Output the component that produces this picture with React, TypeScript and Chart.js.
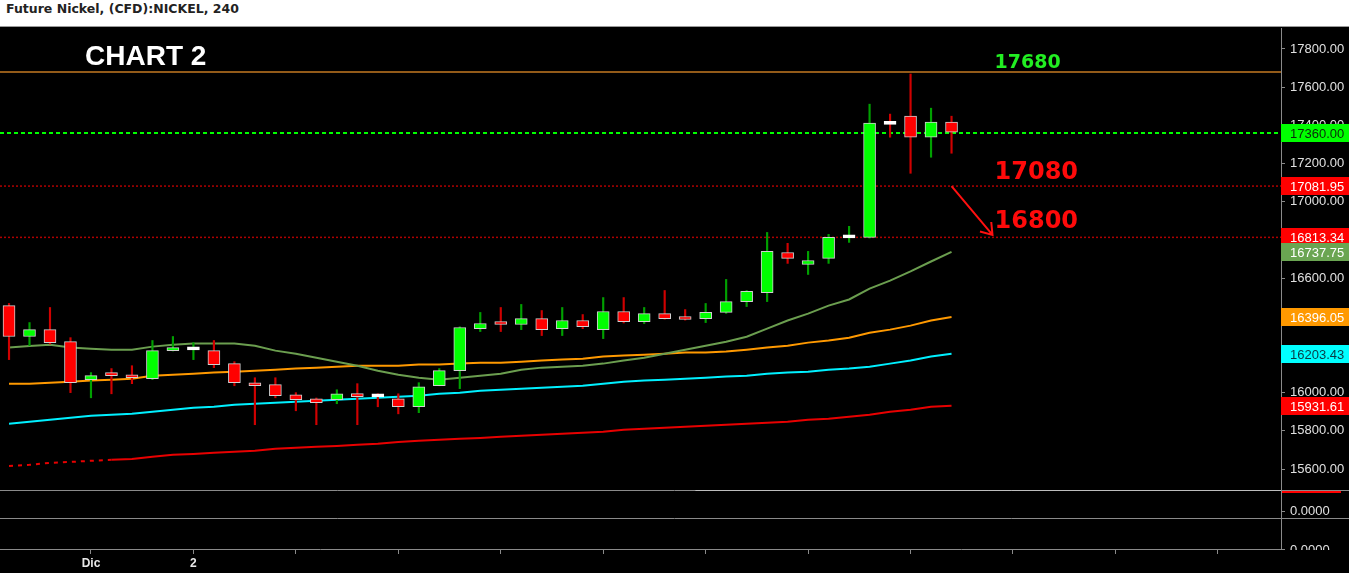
import React, { useEffect, useRef } from 'react';
import { Chart, registerables } from 'chart.js';

Chart.register(...registerables);

// ---------------- data ----------------
const TITLE = 'Future Nickel, (CFD):NICKEL, 240';
const CHART_LABEL = 'CHART 2';

const OPEN = [16456, 16294, 16330, 16267, 16068, 16105, 16089, 16073, 16220, 16224, 16220, 16152, 16052, 16042, 15989, 15968, 15963, 15989, 15980, 15968, 15926, 16036, 16115, 16335, 16372, 16357, 16388, 16335, 16378, 16330, 16425, 16372, 16414, 16393, 16388, 16420, 16477, 16524, 16734, 16671, 16703, 16811, 16813, 17407, 17448, 17338, 17417];
const HIGH = [16467, 16367, 16446, 16288, 16105, 16126, 16141, 16273, 16294, 16262, 16273, 16162, 16078, 16078, 16000, 15972, 16015, 16047, 15994, 15994, 16052, 16126, 16345, 16420, 16446, 16462, 16430, 16446, 16409, 16498, 16498, 16446, 16535, 16435, 16467, 16593, 16535, 16839, 16782, 16740, 16829, 16871, 17511, 17459, 17669, 17490, 17448];
const LOW = [16173, 16246, 16255, 16000, 15973, 15994, 16047, 16068, 16218, 16173, 16131, 16036, 15832, 15973, 15905, 15832, 15942, 15832, 15926, 15889, 15895, 16036, 16021, 16320, 16320, 16330, 16299, 16299, 16335, 16283, 16365, 16362, 16385, 16380, 16367, 16415, 16451, 16477, 16677, 16619, 16677, 16787, 16810, 17338, 17149, 17233, 17254];
const CLOSE = [16294, 16330, 16262, 16052, 16089, 16089, 16078, 16220, 16236, 16226, 16147, 16052, 16036, 15984, 15963, 15947, 15994, 15979, 15978, 15926, 16031, 16115, 16341, 16362, 16357, 16388, 16330, 16378, 16346, 16425, 16372, 16414, 16388, 16383, 16420, 16477, 16530, 16740, 16703, 16692, 16813, 16815, 17412, 17405, 17338, 17417, 17364];

const MA_GREEN = [16236, 16244, 16251, 16236, 16230, 16225, 16225, 16241, 16251, 16257, 16257, 16257, 16246, 16220, 16204, 16183, 16162, 16141, 16115, 16094, 16078, 16068, 16078, 16089, 16099, 16120, 16131, 16136, 16141, 16152, 16168, 16183, 16204, 16225, 16246, 16267, 16293, 16335, 16378, 16414, 16456, 16488, 16545, 16587, 16635, 16687, 16737.75];
const MA_ORANGE = [16047, 16047, 16052, 16057, 16063, 16068, 16073, 16089, 16094, 16099, 16105, 16110, 16115, 16120, 16126, 16131, 16136, 16141, 16141, 16141, 16147, 16147, 16152, 16157, 16157, 16162, 16168, 16173, 16178, 16189, 16194, 16199, 16204, 16210, 16210, 16215, 16225, 16236, 16246, 16262, 16273, 16288, 16314, 16330, 16351, 16378, 16396.05];
const MA_CYAN = [15837, 15847, 15858, 15868, 15879, 15884, 15889, 15900, 15910, 15921, 15926, 15937, 15942, 15947, 15952, 15958, 15963, 15968, 15973, 15979, 15984, 15994, 16000, 16010, 16015, 16021, 16026, 16031, 16036, 16047, 16057, 16063, 16068, 16073, 16078, 16084, 16089, 16099, 16105, 16110, 16120, 16126, 16136, 16152, 16168, 16189, 16203.43];
const MA_RED = [15616, 15622, 15632, 15637, 15643, 15648, 15653, 15664, 15674, 15679, 15685, 15690, 15695, 15706, 15711, 15716, 15721, 15727, 15732, 15742, 15748, 15753, 15758, 15763, 15769, 15774, 15779, 15784, 15790, 15795, 15805, 15811, 15816, 15821, 15826, 15832, 15837, 15842, 15847, 15858, 15863, 15874, 15884, 15900, 15910, 15926, 15931.61];

const Y_TICKS = [15600, 15800, 16000, 16200, 16400, 16600, 16800, 17000, 17200, 17400, 17600, 17800];
const X_TICK_INDEX = [4, 9, 14, 19, 24, 29, 34, 39, 44, 49, 54, 59];
const X_TICK_LABELS = ['Dic', '2', '', '', '', '', '', '', '', '', '', ''];
const SUB_TICKS = [0];

const LEVEL_RESIST = 17680;
const LEVEL_LAST = 17360;
const LEVEL_S1 = 17081.95;
const LEVEL_S2 = 16813.34;
const LEVEL_TEXTS = ['17680', '17080', '16800'];

const TAG_VALUES = [17360.0, 17081.95, 16813.34, 16737.75, 16396.05, 16203.43, 15931.61];

// ---------------- layout / style ----------------
const X_MIN = -0.44;
const X_MAX = 62.08;
const Y_MIN = 15490;
const Y_MAX = 17910;
const FONT = '"Liberation Sans", Arial, sans-serif';

const TAG_STYLE = [
  { bg: '#00ff00', fg: '#0a2a0a' },
  { bg: '#ff0000', fg: '#ffffff' },
  { bg: '#ff0000', fg: '#ffffff' },
  { bg: '#6aa552', fg: '#ffffff' },
  { bg: '#ff9900', fg: '#ffffff' },
  { bg: '#00ffff', fg: '#0a3a44' },
  { bg: '#ff0000', fg: '#ffffff' },
];

const TEXT_NOTES = [
  { text: CHART_LABEL, x: 3.71, y: 17714, color: '#ffffff', font: `bold 28px ${FONT}` },
  { text: LEVEL_TEXTS[0], x: 48.1, y: 17700, color: '#22ee22', font: `bold 19px "DejaVu Sans", Verdana, sans-serif` },
  { text: LEVEL_TEXTS[1], x: 48.1, y: 17119, color: '#ff0a0a', font: `bold 24px "DejaVu Sans", Verdana, sans-serif` },
  { text: LEVEL_TEXTS[2], x: 48.1, y: 16862, color: '#ff0a0a', font: `bold 24px "DejaVu Sans", Verdana, sans-serif` },
];
const ARROW = { from: { x: 46.0, y: 17081.95 }, to: { x: 48.0, y: 16826 } };

const noPadFit = (w: number) => (s: any) => {
  s.width = w;
  s.paddingTop = 0;
  s.paddingBottom = 0;
};

function buildConfig(): any {
  const idx = OPEN.map((_, i) => i);
  const isDoji = (i: number) => Math.abs(CLOSE[i] - OPEN[i]) < 5;
  const bodyColors = idx.map((i) => (isDoji(i) ? '#ffffff' : CLOSE[i] > OPEN[i] ? '#00ff00' : '#ff0000'));
  const bodyBorders = idx.map((i) => (isDoji(i) ? '#ffffff' : '#d0d0d0'));
  const wickColors = idx.map((i) => (CLOSE[i] >= OPEN[i] ? '#00a000' : '#d00000'));
  const maLine = (vals: number[], color: string, extra: any = {}) => ({
    type: 'line',
    data: vals.map((v, i) => ({ x: i, y: v })),
    borderColor: color,
    borderWidth: 2,
    pointRadius: 0,
    tension: 0,
    xAxisID: 'x',
    yAxisID: 'y',
    order: 2,
    ...extra,
  });
  const level = (v: number, color: string, dash: number[], width: number) => ({
    type: 'line',
    data: [
      { x: X_MIN, y: v },
      { x: X_MAX, y: v },
    ],
    borderColor: color,
    borderWidth: width,
    borderDash: dash,
    pointRadius: 0,
    xAxisID: 'x',
    yAxisID: 'y',
    order: 3,
  });

  const tagsPlugin = {
    id: 'tagsAndNotes',
    beforeDatasetsDraw(chart: any) {
      const { ctx, width } = chart;
      const y2 = chart.scales.y2;
      const y3 = chart.scales.y3;
      ctx.save();
      ctx.strokeStyle = '#8a8a8a';
      ctx.lineWidth = 1;
      ctx.beginPath();
      ctx.moveTo(0, Math.round(y2.top) + 0.5);
      ctx.lineTo(width, Math.round(y2.top) + 0.5);
      ctx.moveTo(0, Math.round(y3.top) + 0.5);
      ctx.lineTo(width, Math.round(y3.top) + 0.5);
      ctx.stroke();
      ctx.restore();
    },
    afterDatasetsDraw(chart: any) {
      const { ctx } = chart;
      const xs = chart.scales.x;
      const ys = chart.scales.y;
      ctx.save();
      TEXT_NOTES.forEach((n) => {
        ctx.font = n.font;
        ctx.fillStyle = n.color;
        ctx.textAlign = 'left';
        ctx.textBaseline = 'alphabetic';
        ctx.fillText(n.text, xs.getPixelForValue(n.x), ys.getPixelForValue(n.y));
      });
      const x0 = xs.getPixelForValue(ARROW.from.x);
      const y0 = ys.getPixelForValue(ARROW.from.y);
      const x1 = xs.getPixelForValue(ARROW.to.x);
      const y1 = ys.getPixelForValue(ARROW.to.y);
      const ang = Math.atan2(y0 - y1, x0 - x1);
      ctx.strokeStyle = '#ff1010';
      ctx.lineWidth = 2;
      ctx.beginPath();
      ctx.moveTo(x0, y0);
      ctx.lineTo(x1, y1);
      const hl = 13;
      const spread = 0.6;
      ctx.moveTo(x1 + hl * Math.cos(ang - spread), y1 + hl * Math.sin(ang - spread));
      ctx.lineTo(x1, y1);
      ctx.lineTo(x1 + hl * Math.cos(ang + spread), y1 + hl * Math.sin(ang + spread));
      ctx.stroke();
      ctx.restore();
    },
    afterDraw(chart: any) {
      const { ctx, chartArea, width, height } = chart;
      const ys = chart.scales.y;
      const y2 = chart.scales.y2;
      ctx.save();
      ctx.fillStyle = '#000000';
      ctx.fillRect(chartArea.right + 1, chartArea.bottom + 1, width - chartArea.right, height - chartArea.bottom);
      ctx.fillStyle = '#ff0000';
      ctx.fillRect(chartArea.right + 1, Math.round(y2.top) + 1, 59, 2);
      ctx.font = `13px ${FONT}`;
      ctx.textAlign = 'left';
      ctx.textBaseline = 'middle';
      TAG_VALUES.forEach((v, k) => {
        const py = Math.round(ys.getPixelForValue(v));
        ctx.fillStyle = TAG_STYLE[k].bg;
        ctx.fillRect(chartArea.right, py - 9, width - chartArea.right, 18);
        ctx.fillStyle = TAG_STYLE[k].fg;
        ctx.fillText(v.toFixed(2), chartArea.right + 9, py + 1);
      });
      ctx.fillStyle = '#ffffff';
      ctx.fillRect(0, height - 4, width, 4);
      ctx.restore();
    },
  };

  const axisCommon = {
    type: 'linear',
    position: 'right',
    stack: 'right',
    afterFit: noPadFit(68),
    grid: { drawOnChartArea: false, drawTicks: true, tickLength: 4, color: '#8a8a8a' },
    border: { display: true, color: '#8a8a8a' },
  };

  return {
    type: 'bar',
    data: {
      datasets: [
        {
          type: 'bar',
          data: idx.map((i) => ({ x: i, y: [OPEN[i], CLOSE[i]] })),
          backgroundColor: bodyColors,
          borderColor: bodyBorders,
          borderWidth: 1,
          borderSkipped: false,
          barThickness: 12,
          minBarLength: 3,
          grouped: false,
          xAxisID: 'x',
          yAxisID: 'y',
          order: 0,
        },
        {
          type: 'bar',
          data: idx.map((i) => ({ x: i, y: [LOW[i], HIGH[i]] })),
          backgroundColor: wickColors,
          borderWidth: 0,
          barThickness: 1.5,
          grouped: false,
          xAxisID: 'x',
          yAxisID: 'y',
          order: 1,
        },
        maLine(MA_GREEN, '#6b9e4f'),
        maLine(MA_ORANGE, '#ff9900'),
        maLine(MA_CYAN, '#00f0ff'),
        maLine(MA_RED, '#e80000', {
          segment: { borderDash: (c: any) => (c.p0DataIndex < 5 ? [4, 5] : undefined) },
        }),
        level(LEVEL_RESIST, '#c47a22', [], 1.5),
        level(LEVEL_LAST, '#00ff00', [4, 3], 2),
        level(LEVEL_S1, '#b00000', [2, 2], 1.5),
        level(LEVEL_S2, '#b00000', [2, 2], 1.5),
        {
          type: 'line',
          data: [
            { x: 33.5, y: 0.75 },
            { x: X_MAX, y: 0.75 },
          ],
          borderColor: '#f0f0f0',
          borderWidth: 1,
          pointRadius: 0,
          xAxisID: 'x',
          yAxisID: 'y2',
          order: 4,
        },
      ],
    },
    options: {
      responsive: false,
      animation: false,
      devicePixelRatio: 1,
      layout: { padding: { top: 1, bottom: 4, left: 0, right: 0 } },
      plugins: { legend: { display: false }, tooltip: { enabled: false }, title: { display: false } },
      scales: {
        x: {
          type: 'linear',
          position: 'bottom',
          min: X_MIN,
          max: X_MAX,
          offset: false,
          afterBuildTicks: (s: any) => {
            s.ticks = X_TICK_INDEX.map((v) => ({ value: v }));
          },
          afterFit: (s: any) => {
            s.height = 24;
            s.paddingLeft = 0;
            s.paddingRight = 0;
          },
          ticks: {
            autoSkip: false,
            maxRotation: 0,
            padding: 2,
            color: '#e8e8e8',
            font: { family: FONT, size: 12, weight: 'bold' },
            callback: (_v: any, k: number) => X_TICK_LABELS[k],
          },
          grid: { offset: false, drawOnChartArea: false, drawTicks: true, tickLength: 5, color: '#8a8a8a' },
          border: { display: true, color: '#8a8a8a' },
        },
        y: {
          ...axisCommon,
          stackWeight: 462,
          min: Y_MIN,
          max: Y_MAX,
          afterBuildTicks: (s: any) => {
            s.ticks = Y_TICKS.map((v) => ({ value: v }));
          },
          ticks: {
            padding: 5,
            color: '#e0e0e0',
            font: { family: FONT, size: 13 },
            callback: (v: any) => Number(v).toFixed(2),
          },
        },
        y2: {
          ...axisCommon,
          stackWeight: 28,
          min: -0.25,
          max: 0.75,
          afterBuildTicks: (s: any) => {
            s.ticks = SUB_TICKS.map((v) => ({ value: v }));
          },
          ticks: {
            padding: 5,
            color: '#e0e0e0',
            font: { family: FONT, size: 13 },
            callback: (v: any) => Number(v).toFixed(4),
          },
        },
        y3: {
          ...axisCommon,
          stackWeight: 31,
          min: 0.03,
          max: 1.03,
          afterBuildTicks: (s: any) => {
            s.ticks = SUB_TICKS.map((v) => ({ value: v }));
          },
          ticks: {
            padding: 5,
            color: '#e0e0e0',
            font: { family: FONT, size: 13 },
            callback: (v: any) => Number(v).toFixed(4),
          },
        },
      },
    },
    plugins: [tagsPlugin],
  };
}

export default function App() {
  const ref = useRef<HTMLCanvasElement | null>(null);
  useEffect(() => {
    if (!ref.current) return;
    const chart = new Chart(ref.current, buildConfig());
    return () => chart.destroy();
  }, []);
  return (
    <div
      style={{
        position: 'fixed',
        left: 0,
        top: 0,
        width: 1349,
        height: 577,
        background: '#000',
        overflow: 'hidden',
      }}
    >
      <div
        style={{
          height: 26,
          background: '#ffffff',
          borderBottom: '1px solid #9a9a9a',
          font: 'bold 12.5px "DejaVu Sans", Verdana, sans-serif',
          color: '#222',
          lineHeight: '18px',
          paddingLeft: 6,
          whiteSpace: 'nowrap',
        }}
      >
        {TITLE}
      </div>
      <div style={{ position: 'relative', width: 1349, height: 550 }}>
        <canvas ref={ref} width={1349} height={550} style={{ display: 'block', width: 1349, height: 550 }} />
      </div>
    </div>
  );
}
